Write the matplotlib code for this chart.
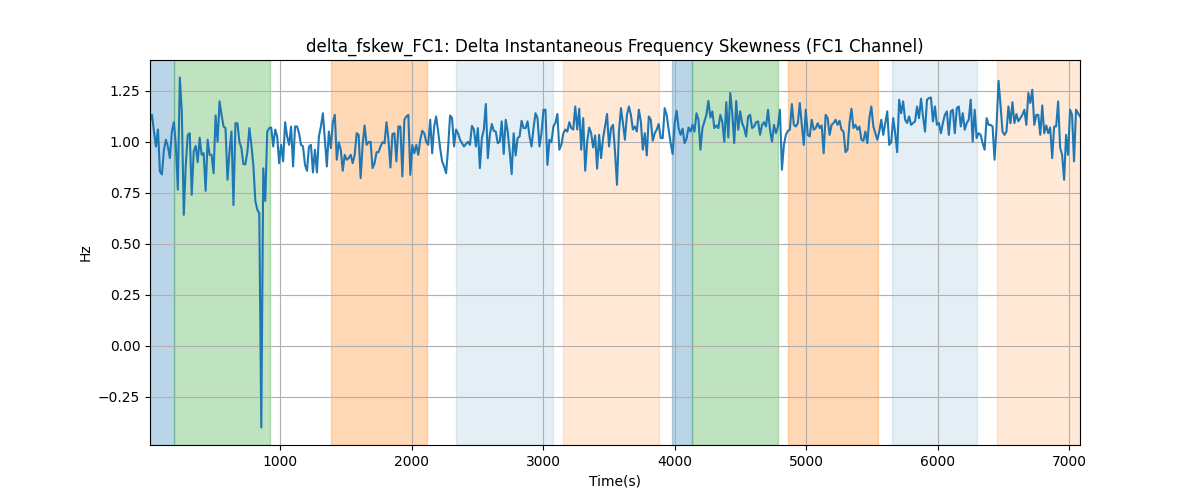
import numpy as np
import matplotlib
matplotlib.use("Agg")
import matplotlib.pyplot as plt

# time range of the recording (s)
t_start = 12
t_end = 7080

# delta_fskew_FC1 values, read left to right
seg1 = [1.10, 1.132, 1.05, 0.977, 1.06, 0.855, 0.84, 0.96, 1.01, 0.977, 0.92,
        1.05, 1.096, 0.985, 0.765, 1.315, 1.149, 0.642, 0.887, 1.034, 1.042,
        0.74, 0.953, 0.98, 0.90, 1.02, 0.936, 0.944, 0.76, 1.01, 0.936,
        0.936, 0.846, 1.129, 1.0, 1.198, 1.132, 1.075, 1.067, 0.814, 0.953,
        1.05, 0.69, 1.091, 1.091, 1.0, 0.969, 0.89, 0.89, 0.95, 1.067, 0.985,
        0.887, 0.71, 0.667, 0.65, -0.40, 0.87, 0.71, 1.05, 1.067, 1.07,
        0.977, 1.06, 1.026, 0.895, 0.985]
seg2 = [0.904, 1.096, 1.026, 0.985, 1.075, 0.879, 1.075, 1.075, 1.042, 0.985,
        0.977, 0.887, 0.858, 0.977, 0.985, 0.85, 0.961, 0.85, 1.026, 1.075,
        1.14, 1.01, 0.879, 1.05, 0.969, 1.096, 1.132, 0.912, 0.998, 0.961,
        0.858, 0.936, 0.912, 0.92, 0.936, 0.895, 0.936, 1.042, 1.034, 0.822,
        0.985, 1.08, 0.985, 0.998, 1.0, 0.871, 0.895, 0.949, 0.949, 0.977,
        0.998, 0.993, 1.096, 1.01, 0.874, 1.038, 1.042, 0.904, 1.075, 1.075,
        0.83, 1.108, 1.124, 1.132, 0.838, 0.985, 0.944, 0.985]
seg3 = [0.936, 1.01, 1.054, 1.042, 1.0, 0.985, 1.108, 0.944, 1.075, 1.124,
        1.05, 0.969, 0.904, 0.879, 0.846, 0.969, 1.129, 1.116, 0.977, 1.06,
        1.042, 1.01, 0.993, 0.977, 0.989, 1.0, 0.985, 1.078, 1.06, 0.977,
        1.067, 0.871, 1.018, 1.06, 1.185, 0.92, 1.034, 1.087, 1.054, 1.05,
        0.993, 1.0, 1.1, 0.94, 1.108, 1.05, 0.953, 0.842, 1.042, 0.933,
        1.018, 1.026, 1.103, 1.067, 1.067, 1.1, 1.026, 0.977, 1.067, 1.14,
        1.116, 0.977, 1.042, 1.157, 1.157, 0.887, 1.01, 0.998]
seg4 = [1.075, 1.092, 1.136, 0.961, 0.985, 1.042, 1.06, 1.05, 1.096, 1.067,
        1.06, 1.173, 1.06, 1.162, 0.961, 1.116, 0.858, 1.0, 1.07, 1.042,
        0.972, 1.031, 0.868, 1.034, 0.92, 1.018, 1.075, 1.136, 0.977, 1.067,
        1.083, 0.953, 0.789, 1.05, 1.165, 1.091, 1.01, 1.132, 1.173, 1.132,
        1.06, 1.075, 1.05, 1.157, 1.1, 0.961, 1.042, 0.933, 1.124, 1.108,
        1.005, 1.042, 1.06, 1.087, 1.018, 1.018, 1.165, 1.132, 1.06, 0.993,
        0.94, 1.091, 1.152, 1.067, 1.034, 1.064, 0.993, 1.015, 1.07]
seg5 = [1.05, 1.083, 1.05, 1.14, 1.108, 0.961, 1.067, 1.1, 1.132, 1.2,
        1.119, 1.149, 1.067, 1.08, 1.067, 1.132, 1.096, 1.0, 1.194, 1.021,
        1.239, 1.14, 0.993, 1.2, 1.059, 1.149, 1.091, 1.067, 1.026, 1.124,
        1.132, 1.067, 1.075, 1.096, 1.1, 1.034, 1.083, 1.096, 1.075, 1.157,
        1.059, 1.0, 1.083, 1.042, 1.075, 1.157, 0.863, 0.985, 1.034, 1.054,
        1.059, 1.185, 1.083, 1.075, 1.091, 1.19, 1.083, 0.985, 1.157, 1.034,
        1.026, 1.108, 1.059, 1.067, 1.091, 1.067, 1.08]
seg6 = [0.944, 1.132, 1.116, 1.034, 1.083, 1.092, 1.108, 1.083, 1.103, 1.059,
        1.05, 0.949, 0.961, 1.092, 1.162, 1.067, 1.083, 1.059, 1.075, 1.01,
        1.005, 1.05, 0.993, 1.116, 1.173, 1.075, 1.042, 1.01, 1.05, 1.108,
        1.034, 1.092, 1.149, 0.985, 0.998, 1.116, 1.042, 0.949, 1.206, 1.14,
        1.198, 1.108, 1.092, 1.124, 1.083, 1.092, 1.1, 1.173, 1.116, 1.211,
        1.124, 1.05, 1.206, 1.214, 1.217, 1.1, 1.173, 1.083, 1.092, 1.042,
        1.092, 1.132, 1.149, 1.034, 1.149, 1.157, 1.042, 1.165]
seg7 = [1.173, 1.075, 1.14, 1.059, 1.092, 1.108, 1.206, 1.0, 1.157, 1.018,
        1.042, 1.034, 0.993, 0.961, 1.116, 1.083, 1.083, 1.075, 0.912, 1.075,
        1.299, 1.181, 1.05, 1.034, 1.05, 1.173, 1.091, 1.194, 1.092, 1.136,
        1.1, 1.116, 1.132, 1.157, 1.083, 1.239, 1.19, 1.255, 1.083, 1.132,
        1.132, 1.034, 1.178, 1.042, 1.08, 1.042, 1.07, 0.92, 1.075, 1.075,
        1.198, 0.972, 0.936, 0.814, 1.034, 0.936, 1.157, 1.132, 0.904, 1.157,
        1.14, 1.124]

values = np.array(seg1 + seg2 + seg3 + seg4 + seg5 + seg6 + seg7)
times = np.linspace(t_start, t_end, len(values))

# shaded phases: (start, end, color, alpha)
span_starts = [12, 195, 1387, 2337, 3150, 3978, 4130, 4860, 5650, 6448]
span_ends = [195, 924, 2117, 3074, 3880, 4130, 4784, 5544, 6296, 7080]
span_colors = ["tab:blue", "tab:green", "tab:orange", "tab:blue", "tab:orange",
               "tab:blue", "tab:green", "tab:orange", "tab:blue", "tab:orange"]
span_alphas = [0.3, 0.3, 0.3, 0.12, 0.17, 0.3, 0.3, 0.3, 0.12, 0.17]

fig, ax = plt.subplots(figsize=(12, 5), dpi=100)
for s, e, c, a in zip(span_starts, span_ends, span_colors, span_alphas):
    ax.axvspan(s, e, color=c, alpha=a)
ax.plot(times, values, color="tab:blue", linewidth=1.5)
ax.set_xlim(times[0], times[-1])
ax.set_title("delta_fskew_FC1: Delta Instantaneous Frequency Skewness (FC1 Channel)")
ax.set_xlabel("Time(s)")
ax.set_ylabel("Hz")
ax.grid(True)
fig.savefig("out.png")
